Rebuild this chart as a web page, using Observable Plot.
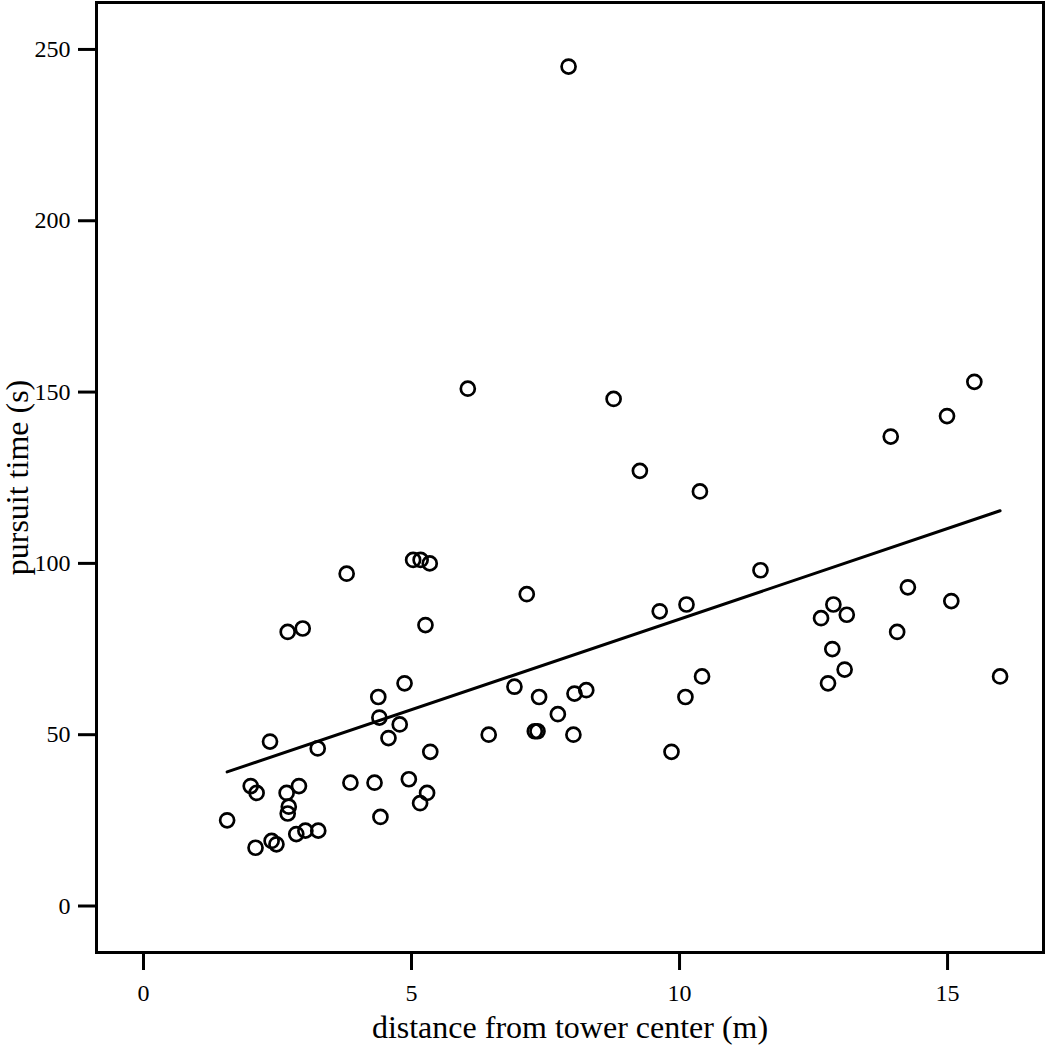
<!DOCTYPE html>
<html>
<head>
<meta charset="utf-8">
<script src="https://cdn.jsdelivr.net/npm/d3@7"></script>
<script src="https://cdn.jsdelivr.net/npm/@observablehq/plot@0.6"></script>
<style>
  html, body { margin: 0; padding: 0; background: #fff; }
</style>
</head>
<body>
<div id="chart"></div>
<script>
const distance = [1.56, 2.09, 2.39, 2.48, 2.00, 2.11, 2.36, 2.67, 2.90, 2.71,
  2.69, 2.85, 3.02, 3.26, 3.25, 3.86, 4.31, 4.42, 4.38, 4.40,
  4.87, 4.57, 4.78, 5.35, 4.95, 5.29, 5.16, 6.44, 6.92, 7.38,
  7.30, 7.35, 7.73, 8.04, 8.26, 8.02, 9.85, 10.11, 10.42, 10.38,
  11.51, 13.94, 14.99, 15.50, 12.64, 12.87, 13.12, 12.85, 13.08, 12.77,
  14.26, 14.06, 15.07, 15.98, 6.05, 8.77, 9.26, 3.79, 5.03, 5.17,
  5.34, 7.15, 9.63, 10.13, 2.69, 2.97, 5.26, 7.93];
const pursuitTime = [25, 17, 19, 18, 35, 33, 48, 33, 35, 29,
  27, 21, 22, 22, 46, 36, 36, 26, 61, 55,
  65, 49, 53, 45, 37, 33, 30, 50, 64, 61,
  51, 51, 56, 62, 63, 50, 45, 61, 67, 121,
  98, 137, 143, 153, 84, 88, 85, 75, 69, 65,
  93, 80, 89, 67, 151, 148, 127, 97, 101, 101,
  100, 91, 86, 88, 80, 81, 82, 245];
const xTicks = [0, 5, 10, 15];
const yTicks = [0, 50, 100, 150, 200, 250];
const xTitle = "distance from tower center (m)";
const yTitle = "pursuit time (s)";

const data = distance.map((d, i) => ({distance: d, time: pursuitTime[i]}));

const chart = Plot.plot({
  width: 1050,
  height: 1046,
  marginLeft: 96,
  marginRight: 7,
  marginTop: 2,
  marginBottom: 94,
  style: {fontFamily: "'Liberation Serif', 'Times New Roman', serif", color: "#000", background: "#fff"},
  x: {domain: [-0.877, 16.79]},
  y: {domain: [-13.57, 263.7]},
  marks: [
    Plot.axisX({ticks: xTicks, tickSize: 18, tickPadding: 13, strokeWidth: 3, fontSize: 24, label: null}),
    Plot.axisY({ticks: yTicks, tickSize: 18, tickPadding: 8, strokeWidth: 3, fontSize: 24, label: null}),
    Plot.frame({stroke: "#000", strokeWidth: 3}),
    Plot.linearRegressionY(data, {x: "distance", y: "time", ci: 0, stroke: "#000", strokeWidth: 3}),
    Plot.dot(data, {x: "distance", y: "time", r: 7, stroke: "#000", strokeWidth: 2.7, fill: "none"}),
    Plot.text([xTitle], {frameAnchor: "bottom", textAnchor: "middle", dy: 75.5, lineAnchor: "middle", fontSize: 32, fill: "#000"}),
    Plot.text([yTitle], {frameAnchor: "left", textAnchor: "middle", dx: -79, rotate: -90, lineAnchor: "middle", fontSize: 32, fill: "#000"})
  ]
});
document.getElementById("chart").appendChild(chart);
</script>
</body>
</html>
